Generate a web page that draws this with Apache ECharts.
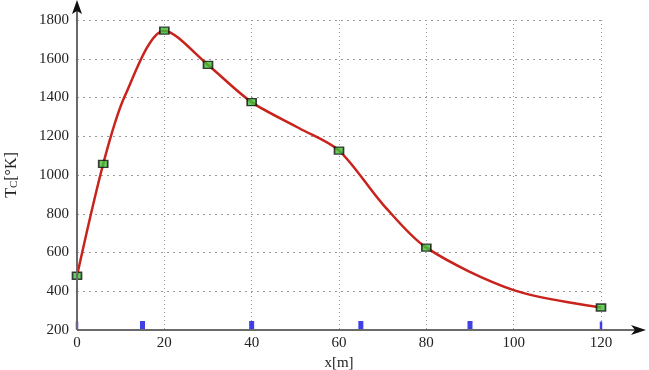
<!DOCTYPE html>
<html><head><meta charset="utf-8">
<script src="https://cdn.jsdelivr.net/npm/echarts@6/dist/echarts.min.js"></script>
<style>html,body{margin:0;padding:0;background:#fff}#c{width:649px;height:370px}</style>
</head><body><div id="c"></div>
<script>
// measured points (markers)
var markerX = [0, 6, 20, 30, 40, 60, 80, 120];
var markerY = [480, 1057, 1745, 1568, 1376, 1126, 625, 316];
// curve (including markers)
var curveX = [0, 6, 11, 20, 30, 40, 51, 60, 70, 80, 100, 120];
var curveY = [480, 1057, 1410, 1745, 1568, 1376, 1240, 1126, 850, 625, 406, 316];
// blue ticks on the x axis
var blueX = [0, 15, 40, 65, 90, 120];
var xTicks = [0, 20, 40, 60, 80, 100, 120];
var yTicks = [200, 400, 600, 800, 1000, 1200, 1400, 1600, 1800];

function pairs(a, b) { return a.map(function (v, i) { return [v, b[i]]; }); }

var chart = echarts.init(document.getElementById('c'), null, {renderer: 'canvas'});
var font = '"Liberation Serif", "DejaVu Serif", serif';
var option = {
  animation: false,
  grid: {left: 77, right: 48, top: 20, bottom: 40, containLabel: false, outerBoundsMode: 'none'},
  xAxis: {
    type: 'value', min: xTicks[0], max: xTicks[xTicks.length - 1], interval: 20,
    axisLine: {show: false},
    axisTick: {show: false},
    axisLabel: {fontFamily: font, fontSize: 15, color: '#222', margin: 6, formatter: function (v) { return String(v); }},
    splitLine: {show: true, lineStyle: {color: '#999', type: [1, 3], width: 1}},
    name: 'x[m]', nameLocation: 'middle', nameGap: 25,
    nameTextStyle: {fontFamily: font, fontSize: 15, color: '#222'}
  },
  yAxis: {
    type: 'value', min: yTicks[0], max: yTicks[yTicks.length - 1], interval: 200,
    axisLine: {show: false},
    axisTick: {show: false},
    axisLabel: {fontFamily: font, fontSize: 15, color: '#222', margin: 8, formatter: function (v) { return String(v); }},
    splitLine: {show: true, lineStyle: {color: '#999', type: [2, 4], width: 1}},
    name: 'T{s|C}[°K]', nameLocation: 'middle', nameGap: 57, nameRotate: 90,
    nameTextStyle: {fontFamily: font, fontSize: 16, color: '#222',
      rich: {s: {fontFamily: font, fontSize: 11, color: '#222', verticalAlign: 'bottom', padding: [6, 0, 0, 0]}}}
  },
  series: [
    {
      type: 'line', data: pairs(curveX, curveY), smooth: 0.3, showSymbol: false,
      lineStyle: {color: '#c8231c', width: 2.5}, z: 3
    },
    {
      type: 'scatter', data: pairs(markerX, markerY), symbol: 'rect', symbolSize: [9, 7],
      itemStyle: {color: '#3fc23a', borderColor: '#111', borderWidth: 1.5}, z: 5
    },
    {
      type: 'scatter', data: blueX.map(function (x) { return [x, 200]; }), symbol: 'rect',
      symbolSize: function (v) { return (v[0] === 0 || v[0] === 120) ? [2.5, 8] : [5, 9]; },
      symbolOffset: [0, -4.5], clip: false,
      itemStyle: {color: '#1010e0'}, z: 4
    }
  ]
};
chart.setOption(option);

var o = chart.convertToPixel({gridIndex: 0}, [0, 200]);
var xe = chart.convertToPixel({gridIndex: 0}, [120, 1800]);
var ax = '#6a6a6a';
chart.setOption({
  graphic: [
    {type: 'line', shape: {x1: o[0], y1: o[1], x2: xe[0] + 38, y2: o[1]}, style: {stroke: ax, lineWidth: 2}, z: 10},
    {type: 'line', shape: {x1: o[0], y1: o[1], x2: o[0], y2: xe[1] - 14}, style: {stroke: ax, lineWidth: 2}, z: 10},
    {type: 'polygon', shape: {points: [[xe[0] + 45, o[1]], [xe[0] + 30, o[1] - 5], [xe[0] + 34, o[1]], [xe[0] + 30, o[1] + 5]]}, style: {fill: '#111'}, z: 11},
    {type: 'polygon', shape: {points: [[o[0], xe[1] - 20], [o[0] - 5, xe[1] - 6], [o[0], xe[1] - 9], [o[0] + 5, xe[1] - 6]]}, style: {fill: '#111'}, z: 11}
  ]
});
</script></body></html>
